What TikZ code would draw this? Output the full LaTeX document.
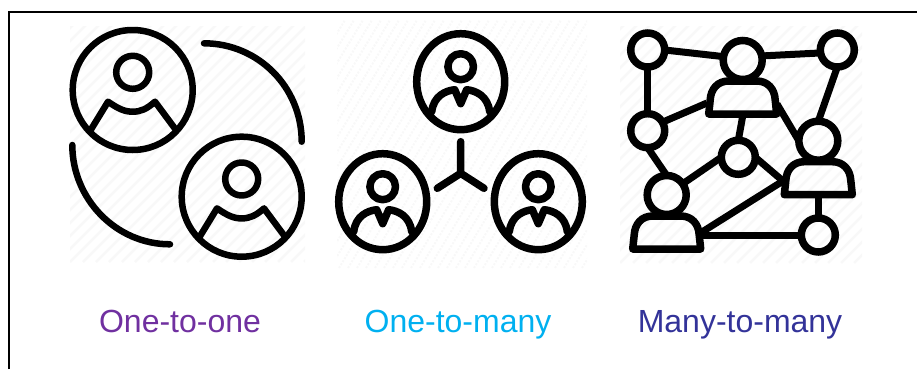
\documentclass[tikz,border=0pt]{standalone}
\usepackage{fontspec}
\setmainfont{Liberation Sans}
\definecolor{ooPurple}{HTML}{7030A0}
\definecolor{omBlue}{HTML}{00B0F0}
\definecolor{mmBlue}{HTML}{333399}
\definecolor{hatchGray}{HTML}{F8F8F8}
\tikzset{
  lbl/.style={anchor=base,font=\fontsize{32}{36}\selectfont},
  ic/.style={line width=6.5pt,line cap=round,line join=round,black},
  ict/.style={line width=7.5pt,line cap=round,line join=round,black},
  hatchline/.style={hatchGray,line width=2.5pt},
  hatchdot/.style={hatchGray,line width=2pt,dash pattern=on 2pt off 1.5pt},
  netc/.style={circle,draw=black,line width=7.5pt,inner sep=0pt,outer sep=0pt,minimum size=34pt},
  neth/.style={circle,draw=black,line width=7.5pt,inner sep=0pt,outer sep=0pt,minimum size=39pt},
  edge/.style={line width=7pt,black},
  bust/.pic={
    \draw[ic] (0,0) circle[radius=60pt];
    \draw[ic] (0,-17.7) circle[radius=16.5pt];
    \draw[ic] (-42,40) -- (-24.7,11.7) .. controls (-14,19) and (-8,21.7) .. (0,21.7)
      .. controls (8,21.7) and (14,19) .. (22.3,11.7) -- (43.3,40);
  },
  suit/.pic={
    \draw[ict] (0,0) ellipse[x radius=44pt,y radius=48pt];
    \draw[ict] (0,-15) ellipse[x radius=12.8pt,y radius=13pt];
    \draw[ict] (-29,30) .. controls (-27,14) and (-15,9) .. (-6,8) -- (0,22) -- (6,8)
      .. controls (15,9) and (27,14) .. (29,30);
  },
  dome/.pic={
    \draw[ict,line cap=butt] (-34,54) -- (-32.5,40) .. controls (-32,29) and (-25,21) .. (-14,21)
      -- (14,21) .. controls (25,21) and (32,29) .. (32.5,40) -- (34,54) -- cycle;
  }
}
\begin{document}
\begin{tikzpicture}[x=1pt,y=-1pt]
\useasboundingbox (0,0) rectangle (917,369);
% frame
\coordinate (fa) at (9,369);
\coordinate (fb) at (9,12.5);
\coordinate (fc) at (917,12.5);
\draw[line width=2pt,black,line join=miter] (fa) -- (fb) -- (fc);
% faint background hatching
\begin{scope}
  \clip (70,27) rectangle (305,262);
  \foreach \k in {-260,-247,...,240} \draw[hatchline] (70+\k,262) -- (70+\k+240,22);
\end{scope}
\begin{scope}
  \clip (337,20) rectangle (587,268);
  \foreach \k in {-160,-151,...,260} \draw[hatchdot] (337+\k,268) -- (337+\k+150,20);
\end{scope}
\begin{scope}
  \clip (620,27) rectangle (862,263);
  \foreach \k in {-260,-247,...,250} \draw[hatchline] (620+\k,263) -- (620+\k+240,23);
\end{scope}
% one-to-one
\pic at (132.7,90) {bust};
\pic at (241.7,196.7) {bust};
\coordinate (ra) at (204,43.3);
\coordinate (rb) at (301.7,141.7);
\coordinate (la) at (72.3,145);
\coordinate (lb) at (170,244.3);
\draw[ic] (ra) .. controls (258,43.3) and (301.7,87) .. (rb);
\draw[ic] (la) .. controls (72.3,199) and (116,244.3) .. (lb);
% one-to-many
\pic at (460.7,81.7) {suit};
\pic at (382.7,201.7) {suit};
\pic at (538.3,201.7) {suit};
\coordinate (hub) at (460.7,173.3);
\coordinate (t1) at (460.7,141.7);
\coordinate (t2) at (437.3,188.3);
\coordinate (t3) at (484,188.3);
\draw[ict] (t1) -- (hub) (t2) -- (hub) -- (t3);
% many-to-many
\node[netc] (a) at (647.7,50) {};
\node[neth] (b) at (742.7,60) {};
\node[netc] (c) at (837.3,50) {};
\node[netc] (d) at (647.7,130.7) {};
\node[netc] (e) at (738.3,157.3) {};
\node[neth] (f) at (818.3,140.7) {};
\node[neth] (g) at (666.7,195) {};
\node[netc] (h) at (818.3,235) {};
\pic at (b.center) {dome};
\pic at (f.center) {dome};
\pic at (g.center) {dome};
\coordinate (bl) at (707,103);
\coordinate (bb) at (742.7,116);
\coordinate (br) at (777,104);
\coordinate (fl) at (783,181);
\coordinate (fb2) at (818.3,196);
\coordinate (gr) at (702,232);
\coordinate (gs) at (702,235);
\draw[edge] (a.east) -- (b.170);
\draw[edge] (b.12) -- (c.190);
\draw[edge] (a.south) -- (d.north);
\draw[edge] (c.south) -- (f.north);
\draw[edge] (d.30) -- (bl);
\draw[edge] (d.south) -- (g.north);
\draw[edge] (br) -- (f.west);
\draw[edge] (bb) -- (e.north);
\draw[edge] (e.west) -- (g.35);
\draw[edge] (e.east) -- (fl);
\draw[edge] (gr) -- (fl);
\draw[edge] (gs) -- (h.west);
\draw[edge] (fb2) -- (h.north);
% labels
\node[lbl,text=ooPurple] (one) at (180,332) {One-to-one};
\node[lbl,text=omBlue] (onem) at (458,332) {One-to-many};
\node[lbl,text=mmBlue] (many) at (740,332) {Many-to-many};
\end{tikzpicture}
\end{document}
